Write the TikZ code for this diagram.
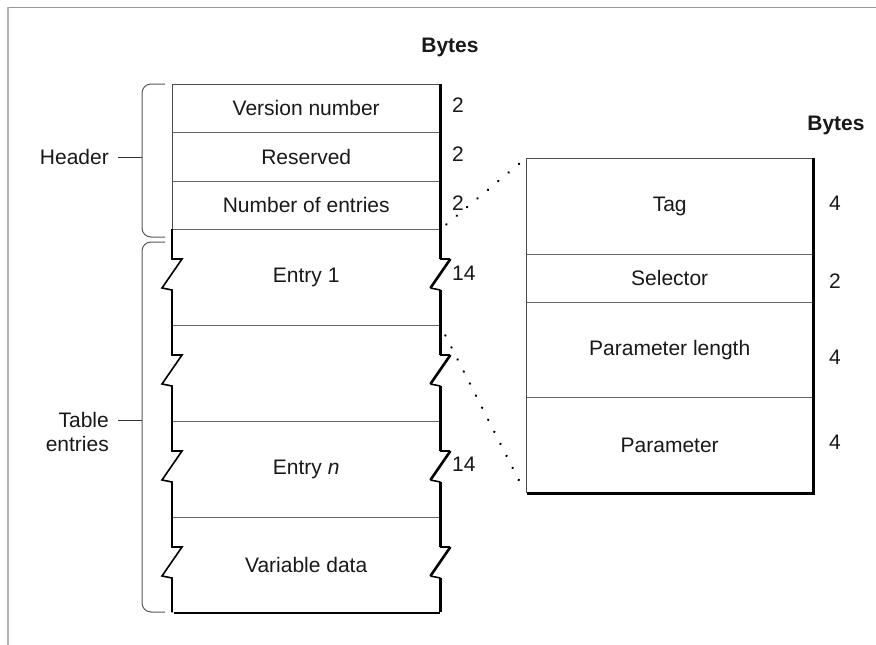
\documentclass[tikz,border=0pt]{standalone}
\usepackage{fontspec}
\setmainfont{Liberation Sans}
\usetikzlibrary{calc}
\begin{document}
\begin{tikzpicture}[x=1pt,y=-1pt,
  every node/.style={inner sep=0pt,text=black!90},
  txt/.style={font=\fontsize{21}{24.5}\selectfont},
  hdr/.style={font=\fontsize{21}{24.5}\selectfont\bfseries},
  lrow/.style={anchor=north west,minimum width=268pt,txt},
  rrow/.style={anchor=north west,minimum width=287pt,txt},
  sep/.style={draw=black!60,line width=1pt},
  thinedge/.style={draw=black!70,line width=1pt},
  blkedge/.style={draw=black,line width=1.6pt},
  heavy/.style={draw=black,line width=2.6pt},
  bracestyle/.style={draw=black!65,line width=1pt,rounded corners=9pt},
  dots/.style={draw=black,line width=2.7pt,line cap=round,dash pattern=on 0.01pt off 13.5pt},
  num/.style={anchor=west,txt}
]
\useasboundingbox (0,0) rectangle (876,645);
\fill[white] (0,0) rectangle (876,645);
% frame
\draw[black!40,line width=1pt] (8,7) -- (876,7);
\draw[black!30,line width=2pt] (8,6.5) -- (8,645);

% titles
\node[hdr] (by1) at (450,47) {Bytes};
\node[hdr] (by2) at (836,125) {Bytes};

% left table rows
\node[lrow,minimum height=48pt] (r1) at (172,84) {Version number};
\node[lrow,minimum height=49pt] (r2) at (172,132) {Reserved};
\node[lrow,minimum height=48pt] (r3) at (172,181) {Number of entries};
\node[lrow,minimum height=96pt] (r4) at (172,229) {Entry 1};
\node[lrow,minimum height=96pt] (r5) at (172,325) {};
\node[lrow,minimum height=96pt] (r6) at (172,421) {Entry \textit{n}};
\node[lrow,minimum height=95pt] (r7) at (172,517) {Variable data};

% separators
\foreach \r in {r1,r2,r3,r4,r5,r6}
  \draw[sep] (\r.south west) -- (\r.south east);
\draw[thinedge] (r1.north east) -- (r1.north west) -- (r3.south west);

% left edge with breaks
\foreach \r in {r4,r5,r6,r7}{
  \draw[blkedge] (\r.north west) -- ++(0,30) -- ++(10,0) -- ++(-20,29) -- ++(10,2) -- (\r.south west);
}
% right edge with breaks
\draw[heavy] (r1.north east) -- (r3.south east);
\foreach \r in {r4,r5,r6,r7}{
  \draw[heavy] (\r.north east) -- ++(0,30);
  \draw[blkedge] ($(\r.north east)+(0,30)$) -- ++(10,0);
  \draw[heavy] ($(\r.north east)+(10,30)$) -- ++(-20,29);
  \draw[blkedge] ($(\r.north east)+(-10,59)$) -- ++(10,2);
  \draw[heavy] ($(\r.north east)+(0,61)$) -- (\r.south east);
}
\draw[heavy] ($(r7.south west)+(2,0.5)$) -- ($(r7.south east)+(0,0.5)$);
\draw[heavy] (r3.south east) -- (r4.north east);

% byte counts left
\node[num] (n1) at (452,105) {2};
\node[num] (n2) at (452,154) {2};
\node[num] (n3) at (452,203) {2};
\node[num] (n4) at (452,273) {14};
\node[num] (n6) at (452,464) {14};

% right table
\node[rrow,minimum height=96pt] (t1) at (526,158) {Tag};
\node[rrow,minimum height=48pt] (t2) at (526,254) {Selector};
\node[rrow,minimum height=95pt] (t3) at (526,302) {Parameter length};
\node[rrow,minimum height=96pt] (t4) at (526,397) {Parameter};
\foreach \r in {t1,t2,t3}
  \draw[sep] (\r.south west) -- (\r.south east);
\draw[thinedge] (t1.north east) -- (t1.north west) -- (t4.south west);
\draw[heavy] (t1.north east) -- (t4.south east) -- ($(t4.south west)+(1,0)$);

\node[num] (m1) at (829,203) {4};
\node[num] (m2) at (829,281) {2};
\node[num] (m3) at (829,357) {4};
\node[num] (m4) at (829,442) {4};

% dotted connectors
\draw[dots] ($(r3.south east)+(6,-5)$) -- ($(t1.north west)+(-6,5)$);
\draw[dots] ($(r4.south east)+(5,10)$) -- ($(t4.south west)+(-4,-7)$);

% braces
\draw[bracestyle] (165,84) -- (142,84) -- (142,237) -- (165,237);
\draw[bracestyle] (165,242) -- (142,242) -- (142,612) -- (165,612);
\coordinate (hb) at (142,157);
\coordinate (tb) at (142,420);
\draw[black!80,line width=1pt] (118,157) -- (hb);
\draw[black!80,line width=1pt] (118,420) -- (tb);
\node[txt,anchor=east] (hl) at (109,157) {Header};
\node[txt,anchor=east,align=right] (tl) at (109,432) {Table\\entries};
\end{tikzpicture}
\end{document}
